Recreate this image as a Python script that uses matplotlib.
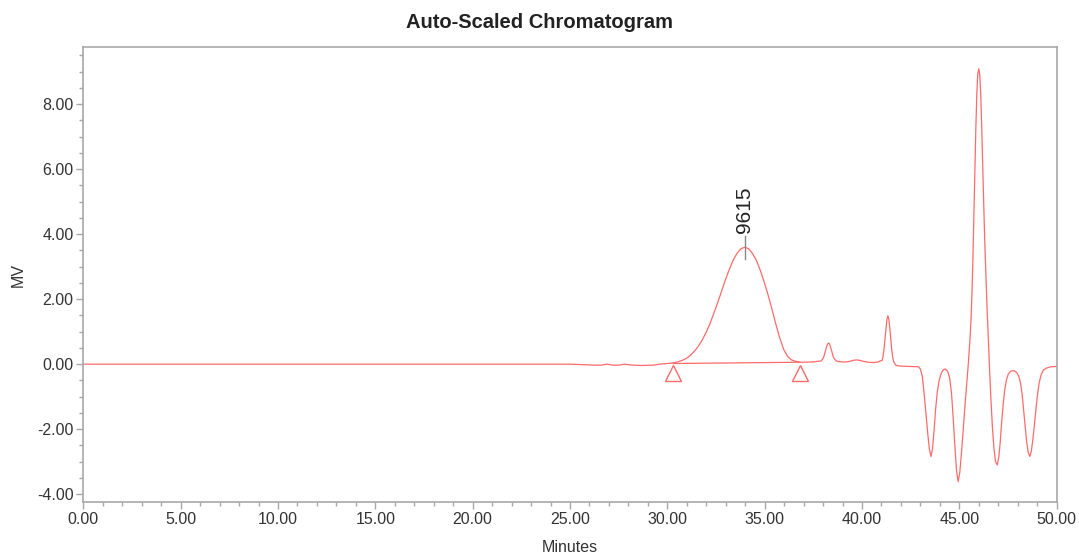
import numpy as np
import matplotlib
matplotlib.use('Agg')
import matplotlib.pyplot as plt
from matplotlib.ticker import MultipleLocator, FormatStrFormatter

plt.rcParams['font.family'] = ['Liberation Sans', 'DejaVu Sans']

# trace: minutes / MV
minutes = [
    0.0, 5.0, 10.0, 15.0, 20.0, 25.0, 26.3, 26.6, 26.9, 27.2, 27.5, 27.8,
    28.2, 28.7, 29.3, 29.6, 29.98,
    30.18, 30.38, 30.58, 30.78, 30.98, 31.18, 31.38, 31.58, 31.78, 31.98,
    32.18, 32.38, 32.58, 32.78, 32.98, 33.18, 33.38, 33.58, 33.78, 33.98,
    34.18, 34.38, 34.58, 34.78, 34.98, 35.18, 35.38, 35.58, 35.78, 35.98,
    36.18, 36.38, 36.58, 36.81,
    37.0, 37.5, 37.8, 37.9, 37.98, 38.03, 38.08, 38.13, 38.18, 38.23, 38.28,
    38.33, 38.38, 38.43, 38.48, 38.53, 38.58, 38.68, 38.8, 39.0, 39.2, 39.4,
    39.55, 39.72, 39.88, 40.05, 40.3, 40.6, 40.85, 40.93,
    41.03, 41.08, 41.13, 41.18, 41.23, 41.28, 41.33, 41.38, 41.43, 41.48,
    41.53, 41.58, 41.63, 41.73, 41.85, 42.0, 42.5, 42.9,
    43.0, 43.1, 43.2, 43.3, 43.38, 43.46, 43.54, 43.62, 43.7, 43.78, 43.87,
    43.97, 44.08, 44.18, 44.29, 44.4, 44.5, 44.6, 44.69, 44.78, 44.86, 44.94,
    45.02, 45.1, 45.2, 45.28, 45.37, 45.46, 45.54, 45.6, 45.65, 45.7, 45.75,
    45.8, 45.85, 45.9, 45.95, 46.0, 46.05, 46.1, 46.15, 46.2, 46.25, 46.3,
    46.36, 46.42, 46.48, 46.55, 46.62, 46.7, 46.78, 46.86, 46.95, 47.03,
    47.1, 47.17, 47.25, 47.33, 47.42, 47.52, 47.65, 47.82, 47.95, 48.06,
    48.15, 48.23, 48.3, 48.38, 48.46, 48.54, 48.62, 48.7, 48.78, 48.86,
    48.94, 49.02, 49.1, 49.2, 49.32, 49.48, 49.7, 50.0,
]
signal = [
    0.0, 0.0, 0.0, 0.0, 0.0, 0.0, -0.03, -0.03, 0.0, -0.03, -0.03, 0.0,
    -0.03, -0.04, -0.03, 0.0, 0.02,
    0.03, 0.05, 0.08, 0.12, 0.18, 0.27, 0.39, 0.54, 0.73, 0.96,
    1.23, 1.55, 1.88, 2.24, 2.59, 2.91, 3.20, 3.41, 3.55, 3.60,
    3.55, 3.40, 3.19, 2.88, 2.52, 2.12, 1.68, 1.22, 0.80, 0.45,
    0.24, 0.13, 0.09, 0.06,
    0.06, 0.07, 0.09, 0.10, 0.16, 0.22, 0.31, 0.43, 0.54, 0.62, 0.65,
    0.62, 0.54, 0.43, 0.31, 0.22, 0.16, 0.10, 0.08, 0.07, 0.07, 0.09,
    0.12, 0.13, 0.12, 0.09, 0.06, 0.05, 0.07, 0.10,
    0.11, 0.23, 0.45, 0.76, 1.10, 1.38, 1.49, 1.38, 1.10, 0.75,
    0.43, 0.20, 0.07, -0.03, -0.05, -0.06, -0.07, -0.08,
    -0.15, -0.38, -0.95, -1.6, -2.15, -2.6, -2.84, -2.62, -2.05, -1.4, -0.85,
    -0.48, -0.27, -0.17, -0.15, -0.22, -0.42, -0.9, -1.71, -2.6, -3.3, -3.61,
    -3.35, -2.8, -2.02, -1.35, -0.69, 0.0, 0.7, 1.35, 2.2, 3.3, 4.6,
    6.0, 7.3, 8.35, 8.95, 9.09, 8.9, 8.3, 7.3, 6.1, 5.0, 3.9,
    2.8, 1.8, 0.9, -0.1, -1.05, -1.95, -2.6, -3.0, -3.10, -2.85,
    -2.4, -1.82, -1.25, -0.8, -0.48, -0.3, -0.21, -0.2, -0.26, -0.38,
    -0.6, -0.95, -1.4, -1.9, -2.4, -2.72, -2.84, -2.68, -2.3, -1.85,
    -1.35, -0.92, -0.58, -0.33, -0.18, -0.12, -0.08, -0.07,
]

# integration baseline of the labelled peak
base_t = [30.30, 36.81]
base_v = [0.02, 0.06]
peak_t = 33.98
peak_name = '9615'

red = '#ff6a6a'
grey = '#a8a8a8'

fig = plt.figure(figsize=(10.79, 5.57), dpi=100)
ax = fig.add_axes([0.0772, 0.0982, 0.9021, 0.8169])

ax.plot(minutes, signal, color=red, lw=0.9)
ax.plot(base_t, base_v, color=red, lw=0.9)
ax.plot(base_t, [-0.26, -0.26], ls='none', marker='^', ms=11.5,
        mfc='white', mec=red, mew=1.0)

ax.plot([peak_t, peak_t], [3.24, 3.93], color='#888888', lw=1.0)
ax.text(peak_t, 4.04, peak_name, rotation=90, ha='center', va='bottom',
        fontsize=15, color='#222222')

ax.set_xlim(0, 50)
ax.set_ylim(-4.25, 9.75)
ax.xaxis.set_major_locator(MultipleLocator(5))
ax.xaxis.set_minor_locator(MultipleLocator(1))
ax.yaxis.set_major_locator(MultipleLocator(2))
ax.yaxis.set_minor_locator(MultipleLocator(0.5))
ax.xaxis.set_major_formatter(FormatStrFormatter('%.2f'))
ax.yaxis.set_major_formatter(FormatStrFormatter('%.2f'))
ax.set_yticks(np.arange(-4, 9, 2))

for s in ax.spines.values():
    s.set_color(grey)
    s.set_linewidth(1.2)
ax.tick_params(which='major', direction='out', length=5, width=1.0,
               color=grey, labelsize=11.5, labelcolor='#333333', pad=2)
ax.tick_params(which='minor', direction='out', length=3, width=1.0, color=grey)

fig.text(540 / 1079, 1 - 22 / 557, 'Auto-Scaled Chromatogram', ha='center',
         va='center', fontsize=14.5, fontweight='bold', color='#222222')
fig.text(569.5 / 1079, 1 - 548 / 557, 'Minutes', ha='center', va='center',
         fontsize=11.5, color='#333333')
fig.text(18.5 / 1079, 1 - 275 / 557, 'MV', ha='center', va='center',
         rotation=90, fontsize=11.5, color='#333333')

fig.savefig('out.png', dpi=100)
